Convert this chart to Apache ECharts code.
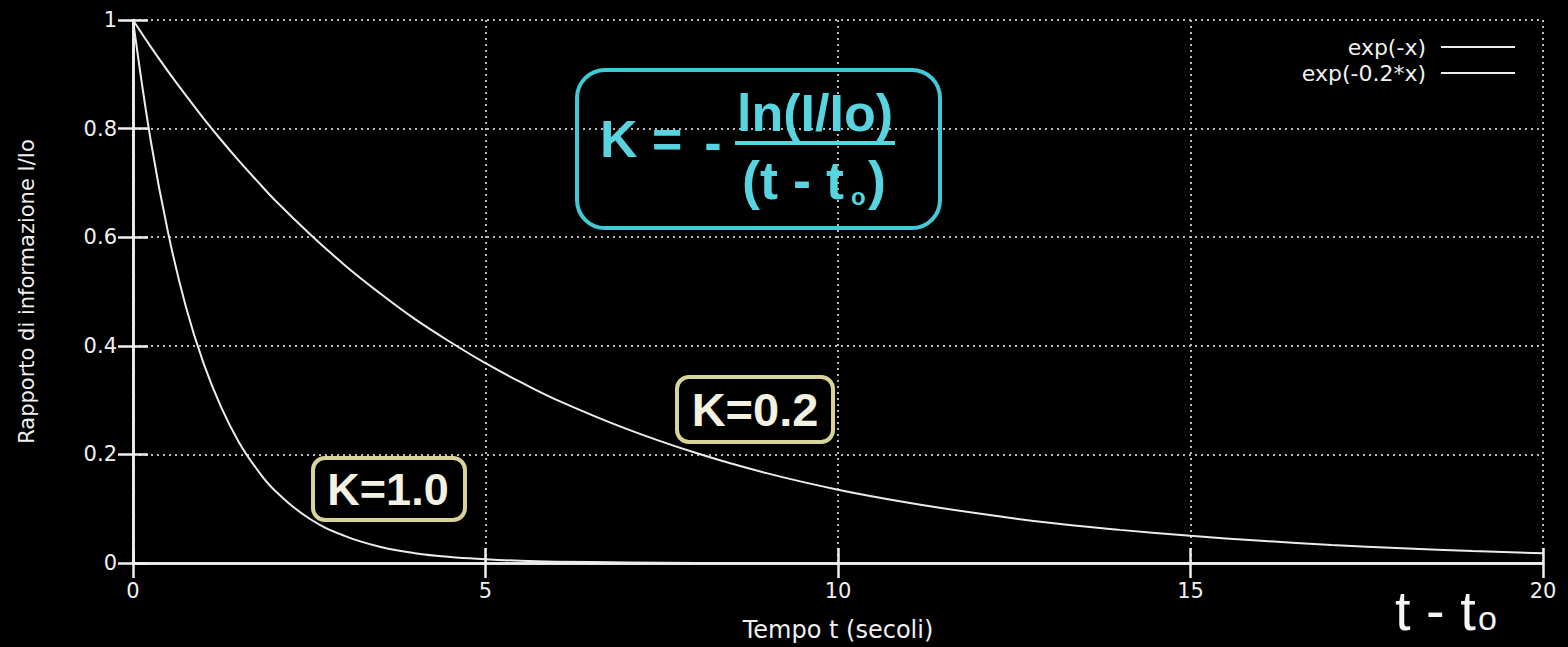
<!DOCTYPE html>
<html>
<head>
<meta charset="utf-8">
<script src="https://cdn.jsdelivr.net/npm/echarts@6/dist/echarts.min.js"></script>
<style>
html,body{margin:0;padding:0;background:#000;}
#chart{width:1568px;height:647px;}
</style>
</head>
<body>
<div id="chart"></div>
<script>
// Data
const tValues = [0, 0.25, 0.5, 0.75, 1, 1.25, 1.5, 1.75, 2, 2.5, 3, 3.5, 4, 4.5, 5, 5.5, 6, 7, 8, 9, 10, 11, 12, 13, 14, 15, 16, 17, 18, 19, 20];
const seriesK1 = [1, 0.779, 0.607, 0.472, 0.368, 0.287, 0.223, 0.174, 0.135, 0.082, 0.05, 0.03, 0.018, 0.011, 0.007, 0.004, 0.0025, 0.001, 0, 0, 0, 0, 0, 0, 0, 0, 0, 0, 0, 0, 0];
const seriesK02 = [1, 0.951, 0.905, 0.861, 0.819, 0.779, 0.741, 0.705, 0.67, 0.607, 0.549, 0.497, 0.449, 0.407, 0.368, 0.333, 0.301, 0.247, 0.202, 0.165, 0.135, 0.111, 0.091, 0.074, 0.061, 0.05, 0.041, 0.033, 0.027, 0.022, 0.018];
const seriesNames = ['exp(-x)', 'exp(-0.2*x)'];
const xTicks = {min: 0, max: 20, step: 5};
const yTicks = {min: 0, max: 1, step: 0.2};
const xTitle = 'Tempo t (secoli)';
const yTitle = 'Rapporto di informazione I/Io';

const pairs = (xs, ys) => xs.map((x, i) => [x, ys[i]]);

const fg = '#f0f0f0';
const tickFont = {color: fg, fontSize: 21, fontFamily: 'DejaVu Sans'};
const cyanText = '#57d4df';
const cyanBox = '#42c9d6';
const yBox = '#d8d39a';
const yText = '#f2f1e2';

const chart = echarts.init(document.getElementById('chart'), null, {renderer: 'svg'});

function mkX(pos, showLabel) {
  return {
    type: 'value', position: pos, min: xTicks.min, max: xTicks.max, interval: xTicks.step,
    axisLine: {show: true, lineStyle: {color: fg, width: 2.5}},
    axisTick: {show: true, inside: true, length: 15, lineStyle: {color: fg, width: 2.5}},
    axisLabel: Object.assign({show: showLabel, margin: 17}, tickFont),
    splitLine: {show: showLabel, lineStyle: {color: '#b8b8b8', width: 2, type: [2, 4]}},
    name: showLabel ? xTitle : '', nameLocation: 'middle', nameGap: 55,
    nameTextStyle: {color: fg, fontSize: 24, fontFamily: 'DejaVu Sans'}
  };
}
function mkY(pos, showLabel) {
  return {
    type: 'value', position: pos, min: yTicks.min, max: yTicks.max, interval: yTicks.step,
    axisLine: {show: true, lineStyle: {color: fg, width: 2.5}},
    axisTick: {show: true, inside: true, length: 15, lineStyle: {color: fg, width: 2.5}},
    axisLabel: Object.assign({show: showLabel, margin: 16}, tickFont),
    splitLine: {show: showLabel, lineStyle: {color: '#b8b8b8', width: 2, type: [2, 4]}},
    name: showLabel ? yTitle : '', nameLocation: 'middle', nameGap: 96,
    nameTextStyle: {color: fg, fontSize: 21, fontFamily: 'DejaVu Sans'}
  };
}

function txt(x, y, text, size, color, weight, align, family) {
  return {
    type: 'text', x: x, y: y, z: 100,
    style: {
      text: text, fontSize: size, fontWeight: weight || 'normal',
      fontFamily: family || 'Liberation Sans', fill: color,
      align: align || 'left', verticalAlign: 'middle',
      textAlign: align || 'left', textVerticalAlign: 'middle'
    }
  };
}

const option = {
  backgroundColor: '#000',
  animation: false,
  grid: {left: 133, right: 25, top: 20, bottom: 81, containLabel: false},
  legend: {
    orient: 'vertical', align: 'right', right: 53, top: 36, padding: 0,
    icon: 'rect', itemWidth: 74, itemHeight: 2, itemGap: 4,
    data: seriesNames,
    itemStyle: {color: '#ececec'},
    textStyle: {color: fg, fontSize: 22, fontFamily: 'DejaVu Sans', lineHeight: 22, padding: [0, 10, 0, 0]}
  },
  xAxis: [mkX('bottom', true), mkX('top', false)],
  yAxis: [mkY('left', true), mkY('right', false)],
  series: [
    {name: seriesNames[0], type: 'line', data: pairs(tValues, seriesK1), symbol: 'none', showSymbol: false, smooth: 0.4,
     lineStyle: {color: '#ececec', width: 2}, itemStyle: {color: '#ececec'}},
    {name: seriesNames[1], type: 'line', data: pairs(tValues, seriesK02), symbol: 'none', showSymbol: false, smooth: 0.4,
     lineStyle: {color: '#ececec', width: 2}, itemStyle: {color: '#ececec'}}
  ],
  graphic: [
    // formula box
    {type: 'rect', z: 100, shape: {x: 577, y: 70, width: 363, height: 158, r: 28},
     style: {fill: 'none', stroke: cyanBox, lineWidth: 4}},
    txt(600, 139, 'K =', 52, cyanText, 'bold'),
    txt(713, 142, '-', 52, cyanText, 'bold', 'center'),
    txt(815, 113, 'ln(I/Io)', 52, cyanText, 'bold', 'center'),
    {type: 'line', z: 100, shape: {x1: 735, y1: 143, x2: 895, y2: 143}, style: {stroke: cyanText, lineWidth: 4}},
    txt(742, 180, '(t - t', 54, cyanText, 'bold'),
    txt(851, 196, 'o', 24, cyanText, 'bold'),
    txt(868, 180, ')', 54, cyanText, 'bold'),
    // K=1.0 box
    {type: 'rect', z: 100, shape: {x: 313, y: 458, width: 152, height: 62, r: 12},
     style: {fill: 'none', stroke: yBox, lineWidth: 4}},
    txt(388, 489, 'K=1.0', 45, yText, 'bold', 'center'),
    // K=0.2 box
    {type: 'rect', z: 100, shape: {x: 677, y: 377, width: 156, height: 65, r: 12},
     style: {fill: 'none', stroke: yBox, lineWidth: 4}},
    txt(755, 409, 'K=0.2', 47, yText, 'bold', 'center'),
    // t - t0 label
    txt(1395, 610, 't - t', 56, '#f4f4f4', 'normal'),
    txt(1478, 618, 'o', 34, '#f4f4f4', 'normal')
  ]
};
chart.setOption(option);
</script>
</body>
</html>
